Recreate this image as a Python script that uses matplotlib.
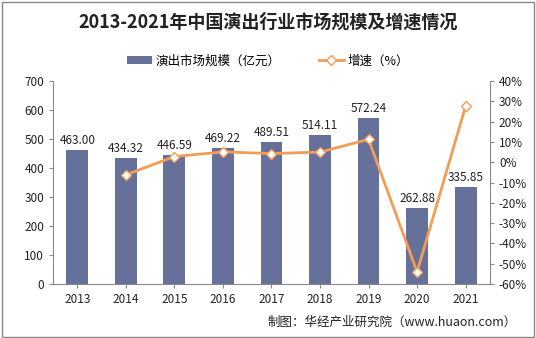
import matplotlib.pyplot as plt
from matplotlib.patches import Rectangle
import numpy as np

plt.rcParams['font.family'] = ['Noto Sans CJK SC', 'DejaVu Sans']

years = ['2013', '2014', '2015', '2016', '2017', '2018', '2019', '2020', '2021']
scale = [463.00, 434.32, 446.59, 469.22, 489.51, 514.11, 572.24, 262.88, 335.85]
growth = [None, -6.2, 2.8, 5.1, 4.3, 5.0, 11.3, -54.1, 27.7]

bar_color = '#66719b'
line_color = '#f39c55'

fig = plt.figure(figsize=(5.36, 3.38), dpi=100)
fig.patches.append(Rectangle((0.004, 0.004), 0.992, 0.99, transform=fig.transFigure,
                             fill=False, edgecolor='#888888', linewidth=1))

ax = fig.add_axes([0.099, 0.160, 0.815, 0.600])
x = np.arange(len(years))
ax.bar(x, scale, width=0.45, color=bar_color, label='演出市场规模（亿元）')
for xi, v in zip(x, scale):
    ax.text(xi, v + 10, f'{v:.2f}', ha='center', va='bottom', fontsize=8.5, color='#222222')

ax.set_ylim(0, 700)
ax.set_yticks(range(0, 701, 100))
ax.set_xlim(-0.5, len(years) - 0.5)
ax.set_xticks(x)
ax.set_xticklabels(years)
for s in ['top', 'right']:
    ax.spines[s].set_visible(False)
ax.spines['left'].set_color('#888888')
ax.spines['bottom'].set_color('#888888')
ax.tick_params(labelsize=8.5, colors='#222222', length=3, color='#888888')

ax2 = ax.twinx()
gx = [xi for xi, g in zip(x, growth) if g is not None]
gy = [g for g in growth if g is not None]
ax2.plot(gx, gy, color=line_color, linewidth=2, marker='D', markersize=5,
         markerfacecolor='white', markeredgecolor=line_color, label='增速（%）')
ax2.set_ylim(-60, 40)
ax2.set_yticks(range(-60, 41, 10))
ax2.set_yticklabels([f'{t}%' for t in range(-60, 41, 10)])
for s in ['top', 'left', 'bottom']:
    ax2.spines[s].set_visible(False)
ax2.spines['right'].set_color('#888888')
ax2.tick_params(labelsize=8.5, colors='#222222', length=3, color='#888888')

fig.text(0.5, 0.935, '2013-2021年中国演出行业市场规模及增速情况', ha='center', va='center',
         fontsize=13, fontweight='bold', color='#222222')

h1, l1 = ax.get_legend_handles_labels()
h2, l2 = ax2.get_legend_handles_labels()
fig.legend(h1 + h2, l1 + l2, loc='center', bbox_to_anchor=(0.5, 0.82), ncol=2,
           frameon=False, fontsize=9, handlelength=2.0, handletextpad=0.3, columnspacing=3)

fig.text(0.965, 0.045, '制图：华经产业研究院（www.huaon.com）', ha='right', va='center',
         fontsize=9, color='#222222')

fig.savefig('out.png', dpi=100)
